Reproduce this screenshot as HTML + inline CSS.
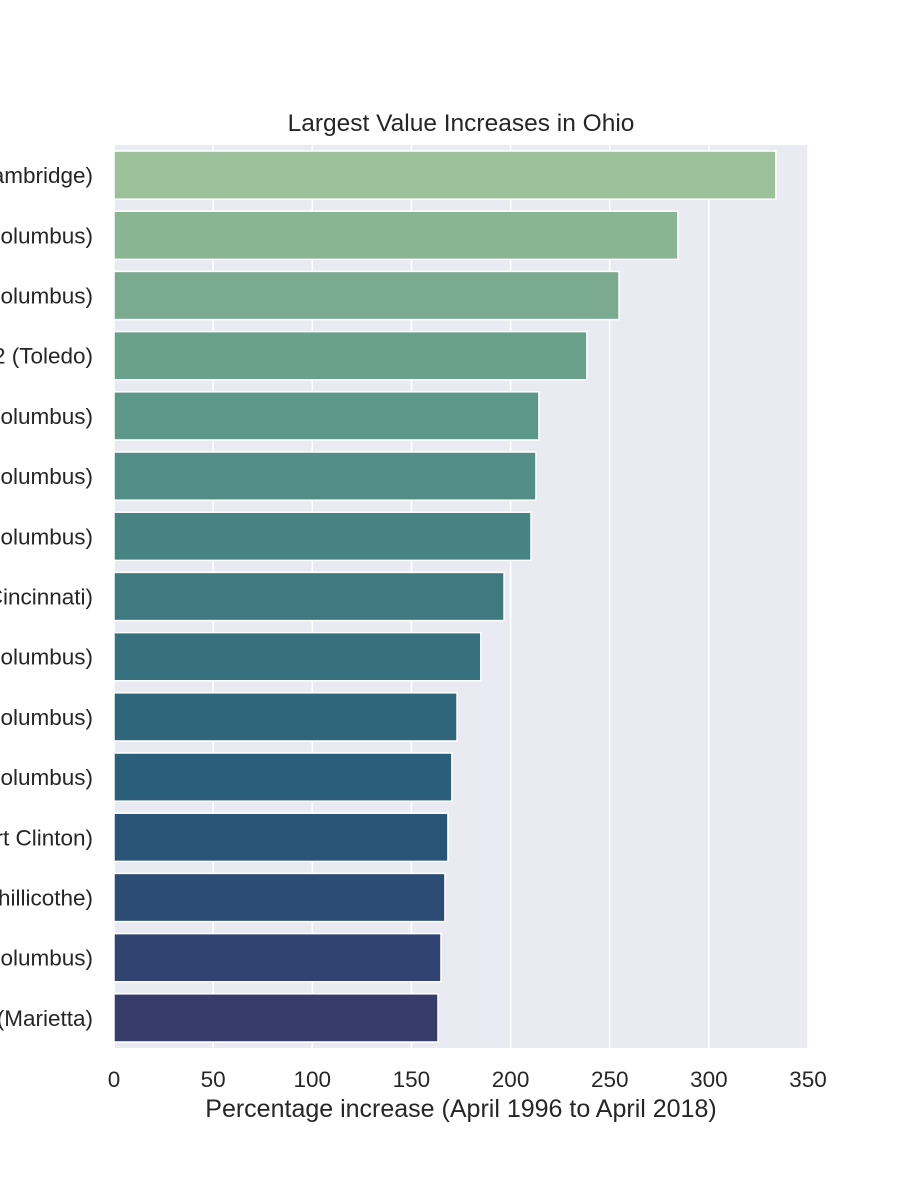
<!DOCTYPE html>
<html><head><meta charset="utf-8"><style>
body{margin:0;background:#fff;}
svg{display:block;font-family:"Liberation Sans","DejaVu Sans",sans-serif;}
</style></head><body>
<svg id="chart" width="900" height="1200">
<rect x="114" y="145" width="694" height="903" fill="#eaeaf2"/>
<g id="grid"></g><g id="bars"></g><g id="ylabels"></g><g id="xticks"></g>
<text x="461" y="131" text-anchor="middle" font-size="24.5" fill="#262626">Largest Value Increases in Ohio</text>
<text x="461" y="1117" text-anchor="middle" font-size="25" fill="#262626">Percentage increase (April 1996 to April 2018)</text>
</svg>
<script>
const categories=["43725 (Cambridge)","43201 (Columbus)","43206 (Columbus)","43602 (Toledo)","43205 (Columbus)","43215 (Columbus)","43203 (Columbus)","45202 (Cincinnati)","43211 (Columbus)","43207 (Columbus)","43222 (Columbus)","43452 (Port Clinton)","45601 (Chillicothe)","43204 (Columbus)","45750 (Marietta)"];
const values=[333.8,284.4,254.7,238.5,214.3,212.8,210.3,196.7,185,173,170.4,168.4,166.9,164.9,163.4];
const xTicks=[0,50,100,150,200,250,300,350];
const colors=["#9bc09a","#8ab593","#7aaa90","#6aa18d","#5d978a","#528d88","#488384","#3f7a80","#37707e","#30667c","#2b5e7a","#2a5477","#2d4c75","#314471","#363d6b"];
const NS="http://www.w3.org/2000/svg";
const x0=114,x1=808,y0=145,y1=1048,xmax=350;
const xs=v=>x0+(v/xmax)*(x1-x0);
const band=(y1-y0)/categories.length;
const ys=i=>y0+i*band;
function mk(t,a,p){const e=document.createElementNS(NS,t);for(const k in a)e.setAttribute(k,a[k]);p.appendChild(e);return e;}
const grid=document.getElementById('grid'),bars=document.getElementById('bars'),yl=document.getElementById('ylabels'),xt=document.getElementById('xticks');
xTicks.forEach(t=>{
  const l=mk('line',{x1:xs(t),x2:xs(t),y1:y0,y2:y1,stroke:'#fff','stroke-width':1.6},grid);
  
  
  const tx=mk('text',{x:xs(t),y:1087,'text-anchor':'middle','font-size':22.5,fill:'#262626'},xt);
  tx.textContent=t;
  
  
});
categories.forEach((c,i)=>{
  const r=mk('rect',{x:xs(0),y:ys(i)+band*0.1,width:xs(values[i])-xs(0),height:band*0.8,fill:colors[i],stroke:'#fff','stroke-width':1.5},bars);
  
  
  const t=mk('text',{x:93,y:ys(i)+band/2+8,'text-anchor':'end','font-size':22.5,fill:'#262626'},yl);
  t.textContent=c;
  
  
});
</script>
</body></html>
